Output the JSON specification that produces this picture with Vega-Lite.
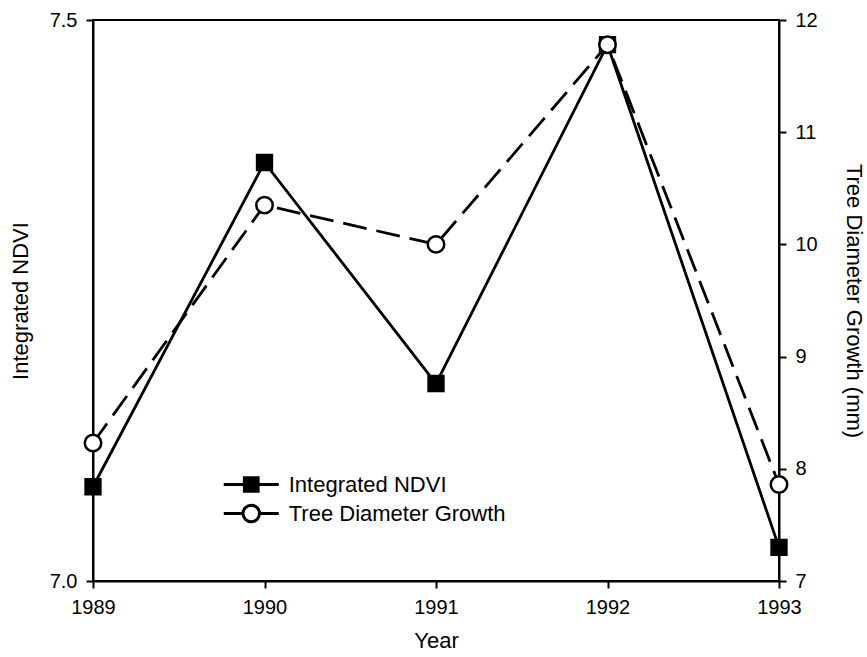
{
  "$schema": "https://vega.github.io/schema/vega-lite/v6.json",
  "width": 686,
  "height": 561,
  "autosize": {"type": "none"},
  "padding": {"left": 93, "top": 20, "right": 88, "bottom": 76},
  "background": "white",
  "config": {
    "view": {"stroke": "black", "strokeWidth": 2},
    "font": "Liberation Sans",
    "axis": {
      "grid": false,
      "labelFlush": false,
      "domainColor": "black",
      "domainWidth": 2,
      "tickColor": "black",
      "tickWidth": 2,
      "tickSize": 7,
      "labelColor": "black",
      "labelFont": "Liberation Sans",
      "labelFontSize": 20,
      "labelPadding": 9,
      "titleColor": "black",
      "titleFont": "Liberation Sans",
      "titleFontSize": 22,
      "titleFontWeight": "normal"
    },
    "legend": {"labelFont": "Liberation Sans", "labelColor": "black"}
  },
  "data": {
    "values": [
      {"year": 1989, "ndvi": 7.084, "growth": 8.23},
      {"year": 1990, "ndvi": 7.373, "growth": 10.35},
      {"year": 1991, "ndvi": 7.176, "growth": 10.0},
      {"year": 1992, "ndvi": 7.478, "growth": 11.78},
      {"year": 1993, "ndvi": 7.03, "growth": 7.86}
    ]
  },
  "encoding": {
    "x": {
      "field": "year",
      "type": "quantitative",
      "scale": {"domain": [1989, 1993], "nice": false, "zero": false},
      "axis": {"values": [1989, 1990, 1991, 1992, 1993], "format": "d", "title": "Year", "titlePadding": 13}
    }
  },
  "layer": [
    {
      "mark": {"type": "line", "color": "black", "strokeWidth": 2.8},
      "encoding": {
        "y": {
          "field": "ndvi",
          "type": "quantitative",
          "scale": {"domain": [7, 7.5], "nice": false, "zero": false},
          "axis": {"values": [7, 7.5], "format": ".1f", "title": "Integrated NDVI", "titlePadding": 17}
        }
      }
    },
    {
      "mark": {"type": "line", "color": "black", "strokeWidth": 2.8, "strokeDash": [24, 10]},
      "encoding": {
        "y": {
          "field": "growth",
          "type": "quantitative",
          "scale": {"domain": [7, 12], "nice": false, "zero": false},
          "axis": {"orient": "right", "values": [7, 8, 9, 10, 11, 12], "format": "d", "title": "Tree Diameter Growth (mm)", "titlePadding": 24}
        }
      }
    },
    {
      "mark": {"type": "point", "shape": "square", "filled": true, "fill": "black", "stroke": "black", "strokeWidth": 2.5, "size": 220, "opacity": 1},
      "encoding": {
        "y": {
          "field": "ndvi",
          "type": "quantitative",
          "scale": {"domain": [7, 7.5], "nice": false, "zero": false},
          "axis": null
        }
      }
    },
    {
      "mark": {"type": "point", "shape": "circle", "filled": true, "fill": "white", "stroke": "black", "strokeWidth": 2.5, "size": 270, "opacity": 1},
      "encoding": {
        "y": {
          "field": "growth",
          "type": "quantitative",
          "scale": {"domain": [7, 12], "nice": false, "zero": false},
          "axis": null
        }
      }
    },
    {
      "mark": {"type": "point", "filled": true, "strokeWidth": 3, "opacity": 0},
      "encoding": {
        "y": {
          "field": "ndvi",
          "type": "quantitative",
          "scale": {"domain": [7, 7.5], "nice": false, "zero": false},
          "axis": null
        },
        "shape": {
          "datum": "Integrated NDVI",
          "type": "nominal",
          "scale": {
            "domain": ["Integrated NDVI", "Tree Diameter Growth"],
            "range": ["M-2,0H2M-0.5,-0.5H0.5V0.5H-0.5Z", "M-2,0H-0.6M0.6,0H2M0.6,0A0.6,0.6,0,1,1,-0.6,0A0.6,0.6,0,1,1,0.6,0Z"]
          },
          "legend": {
            "orient": "none",
            "legendX": 142.75,
            "legendY": 449,
            "title": null,
            "padding": 0,
            "symbolSize": 756,
            "symbolStrokeWidth": 3,
            "symbolOpacity": 1,
            "labelFontSize": 22,
            "labelOffset": 22,
            "labelLimit": 400,
            "rowPadding": -1
          }
        },
        "fill": {
          "datum": "Integrated NDVI",
          "type": "nominal",
          "scale": {"domain": ["Integrated NDVI", "Tree Diameter Growth"], "range": ["black", "white"]},
          "legend": {
            "orient": "none",
            "legendX": 142.75,
            "legendY": 449,
            "title": null,
            "padding": 0,
            "symbolSize": 756,
            "symbolStrokeWidth": 3,
            "symbolOpacity": 1,
            "labelFontSize": 22,
            "labelOffset": 22,
            "labelLimit": 400,
            "rowPadding": -1
          }
        },
        "stroke": {
          "datum": "Integrated NDVI",
          "type": "nominal",
          "scale": {"domain": ["Integrated NDVI", "Tree Diameter Growth"], "range": ["black", "black"]},
          "legend": {
            "orient": "none",
            "legendX": 142.75,
            "legendY": 449,
            "title": null,
            "padding": 0,
            "symbolSize": 756,
            "symbolStrokeWidth": 3,
            "symbolOpacity": 1,
            "labelFontSize": 22,
            "labelOffset": 22,
            "labelLimit": 400,
            "rowPadding": -1
          }
        }
      }
    },
    {
      "mark": {"type": "point", "filled": true, "strokeWidth": 3, "opacity": 0},
      "encoding": {
        "y": {
          "field": "growth",
          "type": "quantitative",
          "scale": {"domain": [7, 12], "nice": false, "zero": false},
          "axis": null
        },
        "shape": {"datum": "Tree Diameter Growth", "type": "nominal"},
        "fill": {"datum": "Tree Diameter Growth", "type": "nominal"},
        "stroke": {"datum": "Tree Diameter Growth", "type": "nominal"}
      }
    }
  ],
  "resolve": {"scale": {"y": "independent"}, "axis": {"y": "independent"}}
}
